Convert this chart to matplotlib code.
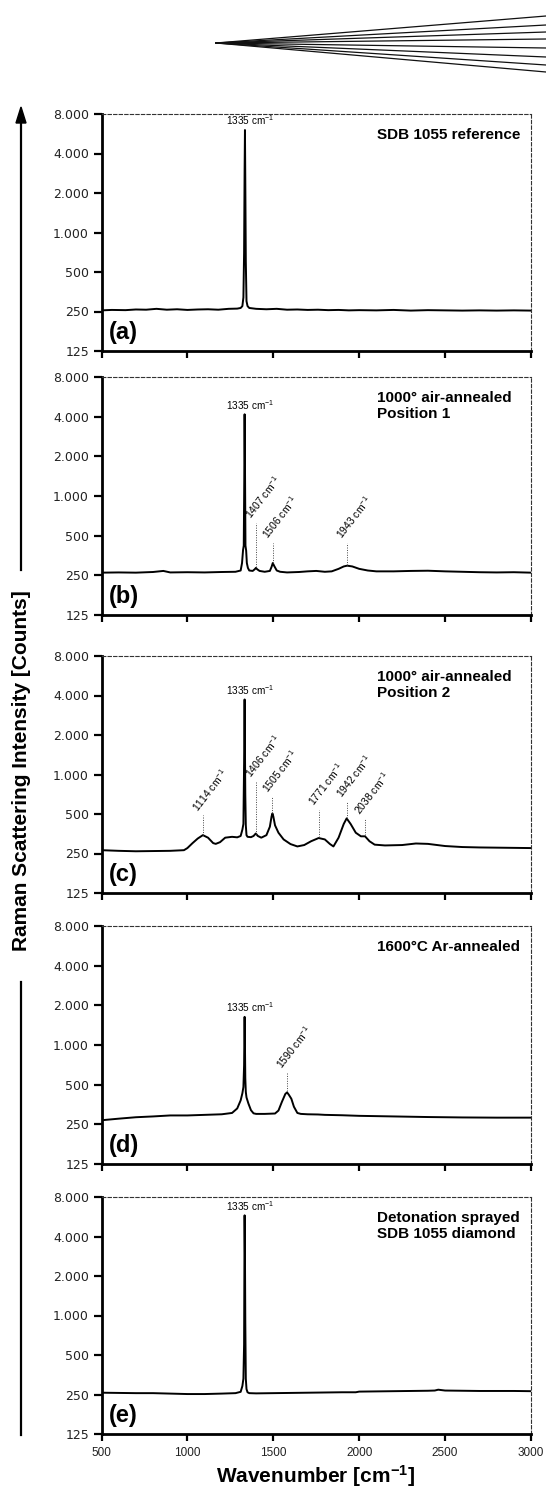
import matplotlib
matplotlib.use("Agg")
import matplotlib.pyplot as plt
from matplotlib.lines import Line2D
from matplotlib.ticker import NullLocator

plt.rcParams["font.family"] = ["Liberation Sans", "DejaVu Sans"]
plt.rcParams["mathtext.fontset"] = "custom"
plt.rcParams["mathtext.rm"] = "Liberation Sans"
plt.rcParams["mathtext.it"] = "Liberation Sans:italic"
plt.rcParams["mathtext.bf"] = "Liberation Sans:bold"

# ---- data (wavenumber [cm-1], counts) ----
WN_A = [500, 560, 640, 700, 760, 820, 880, 940, 1000, 1060, 1120, 1180, 1240, 1290,
        1310, 1320, 1326, 1330, 1333, 1335, 1337, 1340, 1344, 1350, 1360, 1400, 1460,
        1520, 1580, 1640, 1700, 1760, 1820, 1880, 1940, 2000, 2100, 2200, 2300, 2400,
        2500, 2600, 2700, 2800, 2900, 3000]
CT_A = [255, 257, 256, 259, 258, 262, 258, 260, 257, 259, 260, 258, 262, 263,
        266, 275, 320, 700, 3000, 6040, 2500, 600, 300, 275, 266, 262, 260,
        262, 258, 259, 257, 258, 256, 257, 255, 256, 255, 257, 254, 256,
        255, 254, 255, 254, 255, 254]

WN_B = [500, 600, 700, 800, 860, 900, 1000, 1100, 1200, 1280, 1310, 1318, 1324, 1328,
        1331, 1333, 1335, 1338, 1342, 1346, 1352, 1360, 1380, 1392, 1399, 1406, 1420,
        1450, 1480, 1490, 1497, 1505, 1520, 1540, 1580, 1650, 1700, 1750, 1800, 1840,
        1880, 1910, 1930, 1960, 2000, 2050, 2100, 2200, 2300, 2400, 2500, 2600, 2700,
        2800, 2900, 3000]
CT_B = [262, 263, 262, 265, 270, 263, 264, 263, 265, 266, 272, 310, 390, 420,
        1300, 4170, 1840, 420, 385, 310, 285, 272, 270, 278, 285, 278, 270,
        266, 270, 290, 310, 295, 272, 266, 263, 265, 268, 270, 266, 268,
        280, 292, 296, 292, 280, 272, 268, 268, 270, 271, 268, 266, 264,
        263, 264, 262]

WN_C = [500, 600, 700, 800, 900, 980, 1000, 1030, 1060, 1090, 1120, 1150, 1165, 1190,
        1220, 1260, 1290, 1310, 1320, 1326, 1330, 1333, 1335, 1337, 1340, 1344, 1350,
        1370, 1385, 1398, 1410, 1430, 1460, 1480, 1490, 1495, 1500, 1510, 1530, 1560,
        1600, 1640, 1680, 1720, 1764, 1800, 1830, 1850, 1880, 1910, 1927, 1950, 1980,
        2010, 2034, 2060, 2090, 2150, 2250, 2330, 2400, 2500, 2600, 2700, 2800, 2900,
        3000]
CT_C = [265, 262, 260, 261, 262, 265, 275, 300, 325, 345, 330, 300, 296, 305,
        330, 335, 332, 340, 380, 420, 1200, 3730, 1600, 700, 410, 345, 335,
        333, 340, 355, 340, 330, 345, 400, 480, 505, 480, 410, 360, 320,
        295, 283, 290, 310, 328, 320, 295, 283, 330, 420, 463, 420, 360,
        338, 338, 310, 292, 288, 290, 298, 296, 285, 280, 278, 277, 276,
        275]

WN_D = [500, 520, 600, 700, 800, 900, 1000, 1100, 1200, 1260, 1290, 1310, 1320, 1326,
        1330, 1333, 1335, 1337, 1340, 1344, 1355, 1370, 1385, 1400, 1450, 1510, 1530,
        1550, 1570, 1580, 1590, 1605, 1620, 1640, 1660, 1700, 1760, 1800, 1900, 2000,
        2200, 2400, 2600, 2800, 3000]
CT_D = [268, 270, 276, 283, 287, 292, 292, 295, 298, 305, 330, 380, 430, 480,
        700, 1635, 1000, 560, 440, 400, 360, 320, 303, 300, 300, 302, 318,
        370, 425, 437, 420, 391, 340, 305, 300, 298, 297, 295, 293, 290,
        287, 284, 282, 281, 281]

WN_E = [500, 600, 700, 800, 900, 1000, 1100, 1200, 1280, 1310, 1320, 1326, 1330, 1333,
        1335, 1337, 1340, 1344, 1350, 1360, 1400, 1500, 1600, 1700, 1800, 1900, 1980,
        2000, 2100, 2200, 2300, 2400, 2440, 2460, 2500, 2600, 2700, 2800, 2900, 3000]
CT_E = [258, 257, 256, 256, 254, 252, 252, 254, 256, 262, 290, 330, 600, 5800,
        3000, 900, 330, 275, 260, 256, 255, 256, 257, 258, 259, 260, 260,
        263, 264, 265, 266, 267, 268, 272, 268, 267, 266, 266, 266, 265]

# main diamond line (label, position, apex)
MAIN_LABEL = "1335"
MAIN_POS = 1334
MAIN_TOP = [6040, 4170, 3730, 1635, 5800]

# secondary peak markers: drawn position, label, dotted line from low to high
ANN_B_POS = [1399, 1497, 1927]
ANN_B_LAB = ["1407", "1506", "1943"]
ANN_B_LOW = [290, 311, 300]
ANN_B_HIGH = [628, 441, 441]

ANN_C_POS = [1090, 1398, 1495, 1764, 1927, 2034]
ANN_C_LAB = ["1114", "1406", "1505", "1771", "1942", "2038"]
ANN_C_LOW = [345, 355, 505, 335, 463, 345]
ANN_C_HIGH = [490, 882, 676, 540, 620, 463]

ANN_D_POS = [1580]
ANN_D_LAB = ["1590"]
ANN_D_LOW = [450]
ANN_D_HIGH = [625]

TITLES = ["SDB 1055 reference", "1000° air-annealed\nPosition 1",
          "1000° air-annealed\nPosition 2", "1600°C Ar-annealed",
          "Detonation sprayed\nSDB 1055 diamond"]
LETTERS = ["(a)", "(b)", "(c)", "(d)", "(e)"]

YTICKS = [125, 250, 500, 1000, 2000, 4000, 8000]
YTICK_LABELS = ["125", "250", "500", "1.000", "2.000", "4.000", "8.000"]
XTICKS = [500, 1000, 1500, 2000, 2500, 3000]

# ---- layout (pixels) ----
W, H = 546, 1494
AX_L, AX_R = 101.5, 531
PANEL_PX = [(114, 351), (377, 615), (656, 893), (926, 1164), (1197, 1434)]

fig = plt.figure(figsize=(W / 100, H / 100), dpi=100)

spectra = [(WN_A, CT_A), (WN_B, CT_B), (WN_C, CT_C), (WN_D, CT_D), (WN_E, CT_E)]
anns = [None,
        (ANN_B_POS, ANN_B_LAB, ANN_B_LOW, ANN_B_HIGH),
        (ANN_C_POS, ANN_C_LAB, ANN_C_LOW, ANN_C_HIGH),
        (ANN_D_POS, ANN_D_LAB, ANN_D_LOW, ANN_D_HIGH),
        None]

for i, (top, bot) in enumerate(PANEL_PX):
    ax = fig.add_axes([AX_L / W, 1 - bot / H, (AX_R - AX_L) / W, (bot - top) / H])
    wn, ct = spectra[i]
    ax.plot(wn, ct, color="black", lw=1.4, solid_joinstyle="round")
    ax.set_xlim(500, 3000)
    ax.set_yscale("log", base=2)
    ax.set_ylim(125, 8000)
    ax.set_yticks(YTICKS, YTICK_LABELS)
    ax.yaxis.set_minor_locator(NullLocator())
    ax.set_xticks(XTICKS)
    ax.tick_params(axis="y", direction="out", length=6, width=1.6, pad=3,
                   labelsize=9, labelcolor="#222222")
    ax.tick_params(axis="x", direction="out", length=5, width=1.6, pad=4,
                   labelsize=8.5, labelcolor="#222222")
    for lab in ax.get_yticklabels():
        lab.set_family("DejaVu Sans")
    if i < 4:
        ax.tick_params(labelbottom=False)
    for s in ("left", "bottom"):
        ax.spines[s].set_linewidth(2.0)
    for s in ("top", "right"):
        ax.spines[s].set_linewidth(0.8)
        ax.spines[s].set_linestyle((0, (3, 2)))
        ax.spines[s].set_color("#333333")

    # main peak label
    ax.annotate(MAIN_LABEL + " cm$^{-1}$", (MAIN_POS, MAIN_TOP[i]), xytext=(4, 2),
                textcoords="offset points", ha="center", va="bottom", fontsize=7.2)

    if anns[i] is not None:
        pos, labs, lows, highs = anns[i]
        for p, lb, lo, hi in zip(pos, labs, lows, highs):
            ax.plot([p, p], [lo, hi], color="#444444", lw=0.7, ls=(0, (1, 1.5)))
            ax.annotate(lb + " cm$^{-1}$", (p, hi), xytext=(-2, 1),
                        textcoords="offset points", rotation=52,
                        rotation_mode="anchor", ha="left", va="bottom", fontsize=7.5)

    if "\n" in TITLES[i]:
        ax.text(0.641, 0.94, TITLES[i], transform=ax.transAxes, ha="left", va="top",
                fontsize=11, fontweight="bold", linespacing=1.2)
    else:
        ax.text(0.975, 0.94, TITLES[i], transform=ax.transAxes, ha="right", va="top",
                fontsize=11, fontweight="bold")
    ax.text(0.018, 0.03, LETTERS[i], transform=ax.transAxes, ha="left", va="bottom",
            fontsize=17, fontweight="bold")

# axis titles
fig.text(316 / W, 1 - 1476 / H, r"Wavenumber [cm$^{\mathbf{-1}}$]", ha="center",
         va="center", fontsize=15, fontweight="bold")
fig.text(22 / W, 1 - 771 / H, "Raman Scattering Intensity [Counts]", rotation=90,
         ha="center", va="center", fontsize=15, fontweight="bold")

# vertical arrow around the y title
fig.add_artist(Line2D([21 / W, 21 / W], [1 - 1435 / H, 1 - 982 / H], color="black", lw=1.6))
fig.add_artist(Line2D([21 / W, 21 / W], [1 - 570 / H, 1 - 122 / H], color="black", lw=1.6))
fig.patches.append(plt.Polygon([[16 / W, 1 - 123 / H], [26 / W, 1 - 123 / H],
                                [21 / W, 1 - 107 / H]], closed=True, color="black",
                               transform=fig.transFigure, figure=fig))

# fan decoration at the top
FAN_ORIGIN = (216, 43)
FAN_ENDS_Y = [16, 25, 32, 39, 48, 57, 65, 72]
for ye in FAN_ENDS_Y:
    fig.add_artist(Line2D([FAN_ORIGIN[0] / W, 1.0], [1 - FAN_ORIGIN[1] / H, 1 - ye / H],
                          color="#111111", lw=0.9))

fig.savefig("out.png", dpi=100)
plt.close(fig)
